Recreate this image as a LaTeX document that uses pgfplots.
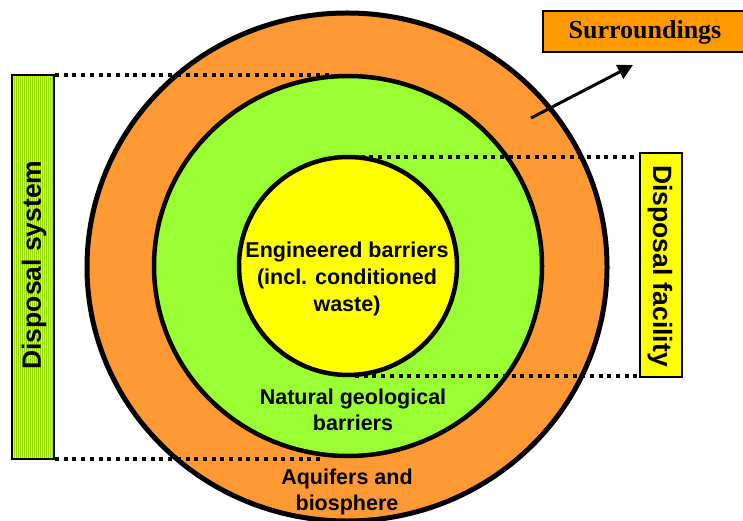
\documentclass[border=0pt]{standalone}
\usepackage{pgfplots}
\pgfplotsset{compat=1.18}
\usepackage{fontspec}
\setmainfont{Liberation Sans}
\newfontfamily\timesf{Liberation Serif}
\usetikzlibrary{patterns.meta,arrows.meta}
\definecolor{ringorange}{HTML}{FF9933}
\definecolor{ringgreen}{HTML}{99FF33}
\definecolor{ringyellow}{HTML}{FFFF00}
\definecolor{boxorange}{HTML}{FF9900}
\definecolor{boxlime}{HTML}{E0FF10}
\definecolor{stripe}{HTML}{99DD00}
\begin{document}
\begin{tikzpicture}
\path[use as bounding box, clip] (0,0) rectangle (743pt,520pt);
\begin{axis}[
  at={(0,0)}, anchor=south west,
  scale only axis, width=743pt, height=520pt,
  xmin=0, xmax=743, ymin=0, ymax=520,
  axis line style={draw=none}, ticks=none, clip=true,
]
% rings
\draw[line width=5pt, fill=ringorange] (axis cs:347,253) ellipse [x radius=260, y radius=254];
\draw[line width=4.5pt, fill=ringgreen] (axis cs:348,254) ellipse [x radius=194, y radius=190];
\draw[line width=4.5pt, fill=ringyellow] (axis cs:348,254) ellipse [x radius=109, y radius=109];
% dotted guides
\addplot[black, line width=3.5pt, dash pattern=on 4pt off 4.7pt] coordinates {(55,445) (330,445)};
\addplot[black, line width=3.5pt, dash pattern=on 4pt off 4.7pt] coordinates {(55,61) (323,61)};
\addplot[black, line width=3.5pt, dash pattern=on 4pt off 4.7pt] coordinates {(352,363) (640,363)};
\addplot[black, line width=3.5pt, dash pattern=on 4pt off 4.7pt] coordinates {(355,144) (640,144)};
% left box
\addplot[draw=black, line width=1.8pt, fill=boxlime, postaction={pattern={Lines[angle=90,distance=2pt,line width=0.7pt]}, pattern color=stripe}] coordinates {(12,61) (54,61) (54,445) (12,445)} -- cycle;
% right box
\addplot[draw=black, line width=1.8pt, fill=ringyellow] coordinates {(640,143) (682,143) (682,367) (640,367)} -- cycle;
% surroundings box
\addplot[draw=black, line width=1.8pt, fill=boxorange] coordinates {(543,468) (760,468) (760,509) (543,509)} -- cycle;
% arrow
\addplot[black, line width=3pt, -{Triangle[length=15pt,width=15pt]}] coordinates {(531,402) (633,455)};
% texts
\node[align=center, font=\fontsize{21.5}{27}\selectfont\bfseries] at (axis cs:347,241) {Engineered barriers\\(incl. conditioned\\waste)};
\node[align=center, font=\fontsize{21.5}{26}\selectfont\bfseries] at (axis cs:353,110) {Natural geological\\barriers};
\node[align=center, font=\fontsize{21.5}{26}\selectfont\bfseries] at (axis cs:347,28) {Aquifers and\\biosphere};
\node[rotate=90, font=\fontsize{26.5}{30}\selectfont\bfseries] at (axis cs:34,255) {Disposal system};
\node[rotate=-90, font=\fontsize{26.5}{30}\selectfont\bfseries] at (axis cs:660,254) {Disposal facility};
\node[font=\timesf\fontsize{26}{30}\selectfont\bfseries] at (axis cs:645,488) {Surroundings};
\end{axis}
\end{tikzpicture}
\end{document}
